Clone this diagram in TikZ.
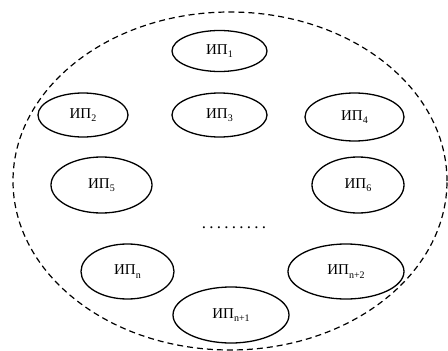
\documentclass[tikz,border=0pt]{standalone}
\usepackage{fontspec}
\setmainfont{Liberation Serif}
\usetikzlibrary{shapes.geometric}
\tikzset{ip/.style={draw,ellipse,line width=1.3pt,inner sep=0pt,font=\fontsize{15}{17}\selectfont}}
\newcommand{\ipsub}[1]{ИП\raisebox{-3.2pt}{\fontsize{10}{11}\selectfont #1}}
\newcommand{\dotrow}{\makebox[67.5pt]{\xleaders\hbox to 7.5pt{\hss.\hss}\hfill}}

\begin{document}
\begin{tikzpicture}[x=1pt,y=-1pt]
            \useasboundingbox (0,0) rectangle (448,351);
            \draw[line width=1.2pt,dash pattern=on 6pt off 4pt] (230,181) ellipse (217pt and 169pt);
            \node[ip,minimum width=95pt,minimum height=41pt] (ip1) at (219.5,51) {\ipsub{1}};
            \node[ip,minimum width=90pt,minimum height=44pt] (ip2) at (83,115) {\ipsub{2}};
            \node[ip,minimum width=95pt,minimum height=44pt] (ip3) at (219.5,115) {\ipsub{3}};
            \node[ip,minimum width=99pt,minimum height=48pt] (ip4) at (354.5,117) {\ipsub{4}};
            \node[ip,minimum width=101pt,minimum height=56pt] (ip5) at (101.5,185) {\ipsub{5}};
            \node[ip,minimum width=92pt,minimum height=56pt] (ip6) at (358,185) {\ipsub{6}};
            \node[font=\fontsize{17}{19}\selectfont,inner sep=0pt] (dots) at (234,228) {\dotrow};
            \node[ip,minimum width=93pt,minimum height=55pt] (ipn) at (127.5,271.5) {\ipsub{n}};
            \node[ip,minimum width=116pt,minimum height=55pt] (ipn2) at (346,271.5) {\ipsub{n+2}};
            \node[ip,minimum width=116pt,minimum height=56pt] (ipn1) at (231,315) {\ipsub{n+1}};
        \end{tikzpicture}
\end{document}
